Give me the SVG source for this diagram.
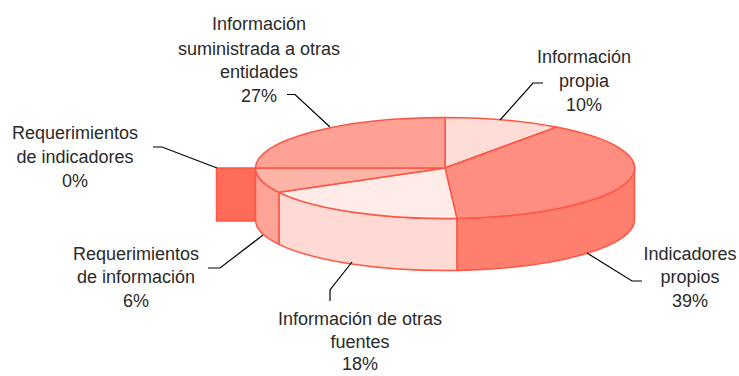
<svg xmlns="http://www.w3.org/2000/svg" width="739" height="376" viewBox="0 0 739 376">
<style>
.s{stroke:#FF5544;stroke-width:1.5;stroke-linejoin:round}
.lbl{font-family:"Liberation Sans",Arial,sans-serif;font-size:18px;fill:#2a2a2a;text-anchor:middle}
.ld{fill:none;stroke:#000;stroke-width:1.2}
</style>
<rect width="739" height="376" fill="#fff"/>
<g id="pie">
<rect id="req-indicadores-0" class="s" x="216.5" y="168" width="39" height="53" fill="#FF6B59"/>
<path id="side-39" class="s" fill="#FF7F6E" d="M634.5,168 A189.5,50.5 0 0 1 456.9,218.4 L456.9,270.4 A189.5,50.5 0 0 0 634.5,220 Z"/>
<path id="side-18" class="s" fill="#FFDAD4" d="M456.9,218.4 A189.5,50.5 0 0 1 278.9,192.3 L278.9,244.3 A189.5,50.5 0 0 0 456.9,270.4 Z"/>
<path id="side-6" class="s" fill="#FFA496" d="M278.9,192.3 A189.5,50.5 0 0 1 255.5,168 L255.5,220 A189.5,50.5 0 0 0 278.9,244.3 Z"/>
<path id="top-10" class="s" fill="#FFDCD6" d="M445,168 L445,117.5 A189.5,50.5 0 0 1 556.4,127.1 Z"/>
<path id="top-39" class="s" fill="#FF8E80" d="M445,168 L556.4,127.1 A189.5,50.5 0 0 1 456.9,218.4 Z"/>
<path id="top-18" class="s" fill="#FFEBE8" d="M445,168 L456.9,218.4 A189.5,50.5 0 0 1 278.9,192.3 Z"/>
<path id="top-6" class="s" fill="#FFB4A8" d="M445,168 L278.9,192.3 A189.5,50.5 0 0 1 255.5,168 Z"/>
<path id="top-27" class="s" fill="#FFA194" d="M445,168 L255.5,168 A189.5,50.5 0 0 1 445,117.5 Z"/>
</g>
<g id="connectors">
<polyline class="ld" points="287,94.5 295,94.5 330,127"/>
<polyline class="ld" points="153,147 162,147 217,168"/>
<polyline class="ld" points="543,83 533,83 500,120"/>
<polyline class="ld" points="208,268 220,268 263,235"/>
<polyline class="ld" points="330,301 330,290 352,262"/>
<polyline class="ld" points="642,281 632,281 587,253"/>
</g>
<g id="label-27">
<text class="lbl" x="259" y="30">Información</text>
<text class="lbl" x="259" y="55">suministrada a otras</text>
<text class="lbl" x="259" y="78">entidades</text>
<text class="lbl" x="259" y="102">27%</text>
</g>
<g id="label-0">
<text class="lbl" x="75" y="139">Requerimientos</text>
<text class="lbl" x="75" y="163">de indicadores</text>
<text class="lbl" x="75" y="187">0%</text>
</g>
<g id="label-10">
<text class="lbl" x="584" y="63">Información</text>
<text class="lbl" x="584" y="87">propia</text>
<text class="lbl" x="584" y="111">10%</text>
</g>
<g id="label-6">
<text class="lbl" x="136" y="260">Requerimientos</text>
<text class="lbl" x="136" y="283">de información</text>
<text class="lbl" x="136" y="307">6%</text>
</g>
<g id="label-18">
<text class="lbl" x="360" y="325">Información de otras</text>
<text class="lbl" x="360" y="348">fuentes</text>
<text class="lbl" x="360" y="370">18%</text>
</g>
<g id="label-39">
<text class="lbl" x="690" y="260">Indicadores</text>
<text class="lbl" x="690" y="283">propios</text>
<text class="lbl" x="690" y="307">39%</text>
</g>
</svg>
